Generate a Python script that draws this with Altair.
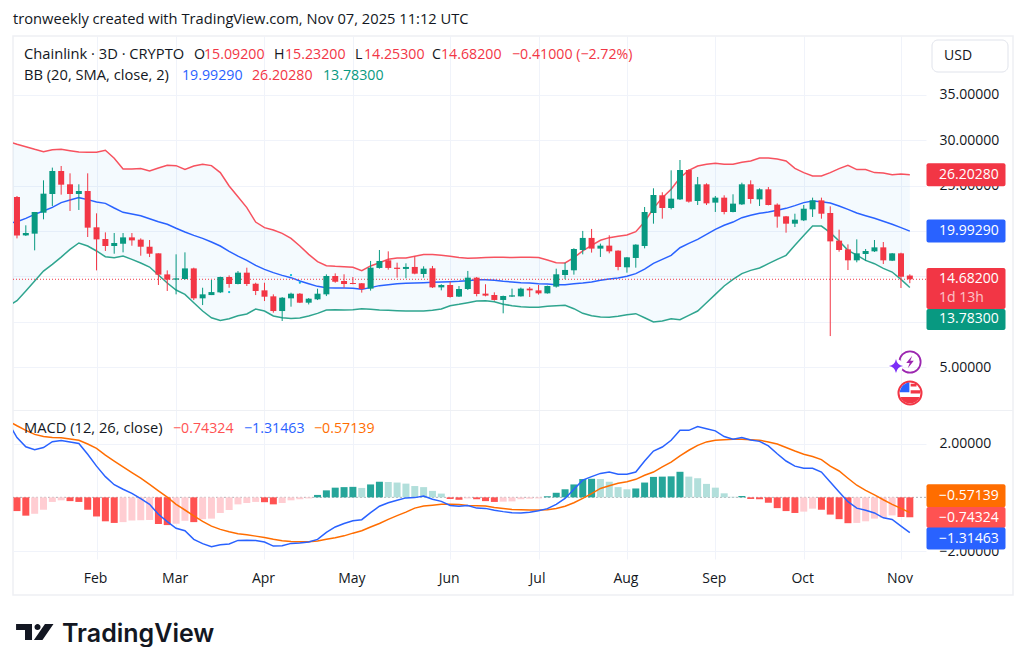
import altair as alt
import pandas as pd

FONT = "Open Sans"
INK = "#131722"
GRID = "#F0F3FA"
UP, DOWN = "#089981", "#F23645"

open_ = [23.75,19.52,19.71,22.02,24.08,26.62,25.15,24.08,24.41,20.41,19.12,18.35,18.60,19.30,19.05,18.27,17.54,15.22,14.64,14.71,
         15.88,12.58,12.94,13.24,14.93,14.16,15.41,14.19,13.46,12.80,11.18,12.58,13.09,12.10,12.47,13.02,15.04,14.49,14.27,14.24,
         13.65,15.93,16.77,15.96,15.82,16.04,15.26,15.89,13.79,14.05,12.77,13.61,14.86,13.10,12.95,12.40,12.77,12.80,13.65,13.46,
         13.13,13.87,15.15,15.67,17.91,19.24,18.06,18.39,17.84,16.00,17.03,18.35,21.99,23.94,22.54,23.49,26.73,23.31,25.15,23.13,
         23.68,22.10,22.94,25.15,23.49,24.60,22.91,21.62,20.81,21.18,22.39,23.38,21.99,18.94,17.98,16.77,17.47,17.76,18.20,16.73,
         17.54,15.09]
close = [19.52,19.78,22.10,24.12,26.62,25.11,24.08,24.41,20.37,19.08,18.35,18.68,19.30,18.97,18.27,17.50,15.19,14.64,14.78,15.88,
         12.58,13.02,13.27,14.93,14.16,15.41,14.16,13.39,12.76,11.18,12.65,13.09,12.10,12.54,13.09,15.04,14.41,14.16,14.16,13.61,
         15.96,16.70,15.93,15.82,16.04,15.30,15.85,13.79,14.05,12.73,13.61,14.86,13.06,12.88,12.40,12.84,12.91,13.65,13.46,13.13,
         13.94,15.23,15.71,18.02,19.24,18.06,18.39,17.76,16.04,17.10,18.50,22.10,23.97,22.54,23.57,26.73,23.24,25.15,23.05,23.68,
         22.10,23.02,25.15,23.53,24.60,22.87,21.59,20.81,21.25,22.46,23.38,21.91,18.86,17.91,16.77,17.54,17.80,18.20,16.77,17.54,
         14.96,14.68]
high = [23.86,20.63,22.10,25.59,26.99,27.17,26.36,25.15,26.36,21.95,19.85,19.78,19.78,19.78,19.19,19.01,17.54,15.66,17.43,17.65,
        15.96,13.75,14.60,14.97,15.11,15.59,15.96,14.30,14.30,13.02,12.72,13.20,13.16,12.61,13.64,15.22,15.33,15.23,14.93,14.27,
        16.70,17.91,17.76,16.51,16.44,17.18,16.11,16.15,14.13,14.42,13.94,15.60,14.93,14.13,13.24,12.88,13.65,13.76,13.83,14.05,
        13.98,15.85,16.51,18.10,20.01,20.23,18.61,19.53,17.87,17.14,18.54,22.65,24.71,24.27,26.69,27.83,26.80,25.96,25.26,23.86,
        23.94,24.05,25.33,25.59,24.71,24.85,23.05,21.66,21.91,22.87,23.68,23.68,22.72,20.15,18.53,19.08,18.02,19.01,18.79,17.58,
        17.61,15.23]
low = [19.19,19.45,17.87,21.29,22.76,24.01,22.21,22.32,19.34,15.66,17.80,17.50,17.65,18.38,17.28,17.13,14.05,13.39,13.02,14.64,
       12.39,11.84,12.94,13.16,13.75,14.12,13.94,12.94,12.28,11.00,10.08,11.66,12.06,11.91,12.39,12.83,14.30,13.76,14.13,13.21,
       13.43,15.85,15.74,14.86,14.79,15.23,14.86,13.72,13.46,12.66,12.73,13.50,12.80,12.80,12.32,10.93,12.73,12.77,12.73,12.99,
       13.10,13.76,14.68,15.19,17.43,17.62,17.14,17.54,15.67,15.41,15.96,18.09,20.81,21.36,22.39,23.42,23.13,22.87,22.87,22.10,
       21.84,22.06,22.87,23.02,22.76,22.83,20.37,19.82,20.44,21.10,21.55,21.36,8.42,17.72,15.70,16.55,16.69,17.69,16.36,16.69,
       13.72,14.25]

bb_upper = [29.89,29.56,29.30,29.01,28.75,28.97,29.01,28.86,28.71,28.68,28.68,28.90,28.02,26.84,26.84,26.88,26.62,26.95,27.24,27.21,
            26.80,27.17,27.35,27.21,26.44,24.96,23.79,22.58,20.99,20.37,20.11,19.74,19.19,18.35,17.43,16.62,16.18,16.11,16.07,16.00,
            15.63,16.15,16.51,16.88,17.03,17.03,17.21,17.40,17.40,17.32,17.21,17.07,16.99,17.03,17.07,17.10,17.10,17.07,17.10,17.10,
            17.07,16.81,16.51,16.48,17.07,17.80,18.43,18.98,19.27,19.42,19.57,19.93,21.03,22.50,23.68,24.60,25.88,26.69,27.17,27.35,
            27.46,27.35,27.35,27.57,27.72,28.05,28.05,27.94,27.72,26.91,26.44,26.07,26.07,26.44,26.88,27.24,26.77,26.77,26.44,26.40,
            26.21,26.29,26.20]
bb_basis = [20.81,21.03,21.40,21.84,22.21,22.61,23.13,23.42,23.68,23.46,23.20,23.05,22.54,22.06,21.88,21.69,21.36,21.03,20.74,20.30,
            19.89,19.52,19.19,18.79,18.35,17.76,17.24,16.77,16.22,15.77,15.41,15.11,14.86,14.49,14.19,13.90,13.75,13.72,13.72,13.68,
            13.57,13.76,13.98,14.09,14.20,14.24,14.27,14.31,14.35,14.38,14.42,14.46,14.53,14.64,14.64,14.57,14.46,14.38,14.31,14.27,
            14.20,14.16,14.09,14.09,14.20,14.27,14.38,14.57,14.71,14.82,15.01,15.30,15.80,16.44,16.88,17.32,18.16,18.64,19.08,19.63,
            20.19,20.63,20.99,21.47,21.73,21.95,22.10,22.28,22.50,22.80,23.13,23.31,23.24,23.09,22.76,22.39,21.99,21.69,21.40,21.07,
            20.74,20.37,19.99]
bb_lower = [11.73,12.32,13.39,14.49,15.59,16.33,17.13,17.98,18.68,18.35,17.80,17.17,17.06,17.24,16.88,16.47,16.03,15.15,14.27,13.50,
            13.02,12.10,11.18,10.44,10.15,10.33,10.66,10.85,11.40,11.18,10.63,10.44,10.37,10.41,10.63,10.92,11.29,11.33,11.29,11.33,
            11.44,11.37,11.29,11.26,11.22,11.18,11.18,11.18,11.26,11.40,11.77,11.92,12.10,12.29,12.32,12.21,11.92,11.77,11.66,11.59,
            11.59,11.70,11.77,11.81,11.44,10.93,10.67,10.52,10.49,10.60,10.78,10.89,10.44,9.97,10.08,10.33,10.22,10.70,11.18,12.10,
            13.02,13.94,14.67,15.30,15.66,15.92,16.40,16.88,17.32,18.42,19.52,20.55,20.55,19.82,18.90,17.87,17.35,16.77,16.40,15.88,
            15.48,14.67,13.78]

hist = [-0.51,-0.68,-0.61,-0.46,-0.17,-0.11,-0.14,-0.17,-0.46,-0.71,-0.89,-0.95,-0.92,-0.86,-0.85,-0.84,-0.99,-1.03,-0.98,-0.87,
        -0.92,-0.81,-0.79,-0.58,-0.47,-0.26,-0.21,-0.17,-0.18,-0.26,-0.21,-0.11,-0.07,-0.04,0.09,0.26,0.36,0.38,0.39,0.35,
        0.48,0.58,0.57,0.55,0.51,0.42,0.38,0.24,0.14,-0.06,-0.09,-0.04,-0.07,-0.14,-0.17,-0.16,-0.15,-0.07,-0.05,-0.04,
        0.04,0.17,0.30,0.48,0.68,0.69,0.68,0.58,0.38,0.30,0.33,0.55,0.76,0.77,0.78,0.95,0.77,0.71,0.50,0.36,
        0.15,0.02,0.05,-0.06,-0.07,-0.20,-0.40,-0.51,-0.58,-0.53,-0.42,-0.46,-0.64,-0.81,-0.96,-0.95,-0.89,-0.79,-0.76,-0.67,
        -0.73,-0.74]
macd = [2.78,2.22,1.88,1.77,1.85,2.07,2.11,2.06,2.00,1.60,1.16,0.77,0.47,0.30,0.15,-0.05,-0.26,-0.63,-0.90,-1.15,
        -1.24,-1.56,-1.72,-1.83,-1.76,-1.73,-1.60,-1.59,-1.60,-1.66,-1.81,-1.80,-1.71,-1.70,-1.66,-1.56,-1.30,-1.10,-0.97,-0.87,
        -0.83,-0.57,-0.33,-0.20,-0.11,-0.02,-0.01,0.05,-0.07,-0.15,-0.30,-0.33,-0.30,-0.40,-0.41,-0.48,-0.53,-0.57,-0.58,-0.55,
        -0.50,-0.42,-0.26,-0.04,0.30,0.64,0.77,0.89,0.94,0.86,0.86,0.94,1.35,1.72,1.87,2.12,2.49,2.49,2.63,2.55,
        2.47,2.26,2.16,2.22,2.13,2.08,1.91,1.62,1.35,1.16,1.08,1.08,0.94,0.57,0.20,-0.16,-0.40,-0.48,-0.58,-0.76,
        -0.82,-1.07,-1.31]
signal = [2.84,2.66,2.49,2.34,2.26,2.22,2.21,2.17,2.12,1.98,1.82,1.57,1.35,1.13,0.92,0.71,0.48,0.24,0.01,-0.26,
          -0.47,-0.69,-0.89,-1.07,-1.19,-1.28,-1.35,-1.39,-1.44,-1.49,-1.56,-1.61,-1.64,-1.65,-1.65,-1.62,-1.56,-1.50,-1.43,-1.33,
          -1.24,-1.10,-0.97,-0.82,-0.68,-0.55,-0.40,-0.32,-0.29,-0.26,-0.26,-0.27,-0.30,-0.31,-0.32,-0.38,-0.41,-0.45,-0.46,-0.47,
          -0.47,-0.46,-0.41,-0.33,-0.20,-0.04,0.14,0.33,0.43,0.52,0.58,0.67,0.82,0.94,1.13,1.31,1.54,1.75,1.93,2.06,
          2.12,2.14,2.16,2.16,2.14,2.12,2.06,1.98,1.85,1.72,1.60,1.52,1.40,1.16,0.98,0.71,0.45,0.26,0.09,-0.09,
          -0.26,-0.41,-0.57]

price_ticks = [5, 10, 15, 20, 25, 30, 35]
macd_ticks = [-2, 2]
month_pos = [9, 18, 28, 38, 49, 59, 69, 79, 89, 100]
month_names = ["Feb", "Mar", "Apr", "May", "Jun", "Jul", "Aug", "Sep", "Oct", "Nov"]
event_i = [24, 31, 32]
event_price = [13.27, 15.15, 14.30]

last_price = 14.682

candles = pd.DataFrame({"i": range(len(open_)), "open": open_, "high": high, "low": low, "close": close})
candles["dir"] = ["up" if c >= o else "down" for o, c in zip(open_, close)]
bands = pd.DataFrame({"i": range(-1, len(bb_upper) - 1), "upper": bb_upper, "basis": bb_basis, "lower": bb_lower})
lines = pd.DataFrame({"i": range(-1, len(macd) - 1), "macd": macd, "signal": signal})


def hist_kind(k):
    v, prev = hist[k], hist[k - 1] if k else 0
    if v >= 0:
        return "up_strong" if v > prev else "up_pale"
    return "down_strong" if v < prev else "down_pale"


histo = pd.DataFrame({"i": range(len(hist)), "v": hist, "zero": [0] * len(hist), "kind": [hist_kind(k) for k in range(len(hist))]})
events = pd.DataFrame({"i": event_i, "p": event_price})
one = pd.DataFrame({"o": [0]})

xs = alt.Scale(domain=[-0.45, 102.83], nice=False, zero=False, padding=0)
ps = alt.Scale(domain=[0.27, 41.5], nice=False, zero=False)
ms = alt.Scale(domain=[-2.29, 3.245], nice=False, zero=False)
month_expr = "{" + ",".join(f"'{p}':'{n}'" for p, n in zip(month_pos, month_names)) + "}[datum.value]"

x_axis_top = alt.Axis(values=month_pos, labels=False, ticks=False, domain=False, grid=True, gridColor=GRID)
x_axis_bot = alt.Axis(values=month_pos, labelExpr=month_expr, labelFont=FONT, labelFontSize=14, labelColor=INK,
                      labelFontWeight=500, ticks=False, domain=False, grid=True, gridColor=GRID, labelPadding=12,
                      labelOffset=-1.5)
# 10, 15 and 20 sit fully behind the price tags in the reference, so only their gridlines show
p_axis = alt.Axis(orient="right", values=price_ticks, labelFont=FONT, labelFontSize=14,
                  labelExpr="indexof([10,15,20],datum.value)>=0 ? '' : format(datum.value,'.5f')",
                  labelColor=INK, ticks=False, domain=False, grid=True, gridColor=GRID, labelPadding=13)
m_axis = alt.Axis(orient="right", values=macd_ticks, format=".5f", labelFont=FONT, labelFontSize=14,
                  labelColor=INK, ticks=False, domain=False, grid=True, gridColor=GRID, labelPadding=13)


def XT(f="i:Q"):
    return alt.X(f, scale=xs, axis=x_axis_top, title=None)


def XB(f="i:Q"):
    return alt.X(f, scale=xs, axis=x_axis_bot, title=None)


def YP(f):
    return alt.Y(f, scale=ps, axis=p_axis, title=None)


def YM(f):
    return alt.Y(f, scale=ms, axis=m_axis, title=None)


def label(text, px, py, color=INK, size=14.2, align="left", weight=400, font=FONT, opacity=1.0):
    return alt.Chart(one).mark_text(text=text, align=align, baseline="middle", color=color, fontSize=size,
                                    fontWeight=weight, font=font, opacity=opacity).encode(
        x=alt.value(px), y=alt.value(py))


def tag(Y, pos, h, fill):
    return alt.Chart(pd.DataFrame({"p": [pos]})).mark_rect(width=79, height=h, fill=fill, cornerRadius=2).encode(
        x=alt.value(953), y=Y("p:Q"))


def tag_text(Y, pos, text, opacity=1.0):
    return alt.Chart(pd.DataFrame({"p": [pos]})).mark_text(text=text, align="left", baseline="middle", color="white",
                                                           fontSize=14, font=FONT, opacity=opacity).encode(
        x=alt.value(926), y=Y("p:Q"))


def icon(path, px, py, size, fill, stroke=None, sw=0, filled=True):
    kw = dict(shape=path, size=size, filled=filled, opacity=1, strokeWidth=sw)
    if fill:
        kw["fill"] = fill
    if stroke:
        kw["stroke"] = stroke
    return alt.Chart(one).mark_point(**kw).encode(x=alt.value(px), y=alt.value(py))


# ---------- price pane ----------
frame = alt.Chart(one).mark_rect(fill="white", fillOpacity=0, stroke="#EEF0F4", strokeWidth=1.5).encode(
    x=alt.value(0), x2=alt.value(1000), y=alt.value(0), y2=alt.value(559))
band = alt.Chart(bands).mark_area(color="#2196F3", opacity=0.05, clip=True).encode(
    x=XT(), y=YP("upper:Q"), y2="lower:Q")


def band_line(field, color):
    return alt.Chart(bands).mark_line(color=color, strokeWidth=1.5, clip=True, interpolate="linear").encode(
        x=XT(), y=YP(f"{field}:Q"))


dir_color = alt.Color("dir:N", scale=alt.Scale(domain=["up", "down"], range=[UP, DOWN]), legend=None)
wick = alt.Chart(candles).mark_rule(strokeWidth=1).encode(
    x=XT(), y=YP("low:Q"), y2="high:Q", color=dir_color)
body = alt.Chart(candles).mark_bar(size=6).encode(
    x=XT(), y=YP("open:Q"), y2="close:Q", color=dir_color)
price_line = alt.Chart(pd.DataFrame({"p": [last_price]})).mark_rule(color=DOWN, strokeWidth=1, strokeDash=[1, 2]).encode(
    y=YP("p:Q"))
event_marks = alt.Chart(events).mark_point(filled=True, color="#00BCD4", size=5, opacity=1).encode(
    x=XT(), y=YP("p:Q"))

legend_1 = [
    label("Chainlink · 3D · CRYPTO", 11, 19, size=14.7),
    label("O", 181, 19), label("15.09200", 191, 19, DOWN),
    label("H", 261, 19), label("15.23200", 272, 19, DOWN),
    label("L", 342, 19), label("14.25300", 351, 19, DOWN),
    label("C", 419, 19), label("14.68200", 428, 19, DOWN),
    label("−0.41000 (−2.72%)", 499, 19, DOWN),
    label("BB (20, SMA, close, 2)", 11, 40, size=14.7),
    label("19.99290", 169, 40, "#2962FF"),
    label("26.20280", 239, 40, DOWN),
    label("13.78300", 310, 40, UP),
]
usd_box = alt.Chart(one).mark_rect(fill="white", stroke="#E0E3EB", strokeWidth=1, cornerRadius=6).encode(
    x=alt.value(919), x2=alt.value(995), y=alt.value(4), y2=alt.value(36))
usd_text = label("USD", 931, 20, size=14)

ring = icon("circle", 897, 326, 452, None, "#9C27B0", 1.8, filled=False)
star_bg = icon("circle", 883, 330, 200, "white")
star = icon("M0,-1 Q0.15,-0.15 1,0 Q0.15,0.15 0,1 Q-0.15,0.15 -1,0 Q-0.15,-0.15 0,-1 Z", 883, 330, 200, "#7B2FF7")
bolt = icon("M0.35,-1 L-0.6,0.15 L-0.05,0.15 L-0.35,1 L0.6,-0.2 L0.05,-0.2 Z", 897, 326, 160, "#9C27B0")
flag_bg = icon("circle", 897, 357, 531, "white", DOWN, 2)
flag_red = icon("M0.05,-0.72 H0.5 V-0.5 H0.05 Z M0.05,-0.22 H0.8 V0.03 H0.05 Z M-0.74,0.3 H0.74 A0.8,0.8 0 0 1 -0.74,0.3 Z",
                897, 357, 676, DOWN)
flag_blue = icon("M-0.78,-0.05 A0.8,0.8 0 0 1 -0.05,-0.8 L-0.05,-0.05 Z", 897, 357, 676, "#2962FF")

price_tags = [
    tag(YP, 26.2028, 23, DOWN), tag_text(YP, 26.2028, "26.20280"),
    tag(YP, 19.9929, 23, "#2962FF"), tag_text(YP, 19.9929, "19.99290"),
    tag(YP, 13.67, 41, DOWN), tag_text(YP, 14.682, "14.68200"), tag_text(YP, 12.62, "1d 13h", 0.7),
    tag(YP, 10.25, 21, UP), tag_text(YP, 10.25, "13.78300"),
]

price_pane = alt.layer(
    frame, band, band_line("upper", "#F7525F"), band_line("lower", "#2FA58F"), band_line("basis", "#2962FF"),
    price_line, wick, body, event_marks, *legend_1, usd_box, usd_text,
    ring, star_bg, star, bolt, flag_bg, flag_red, flag_blue, *price_tags,
).properties(width=913, height=374)

# ---------- MACD pane ----------
zero_line = alt.Chart(pd.DataFrame({"p": [0]})).mark_rule(color="#787B86", opacity=0.6, strokeWidth=1, strokeDash=[2, 2]).encode(
    y=YM("p:Q"))
bars = alt.Chart(histo).mark_bar(size=7).encode(
    x=XB(), y=YM("v:Q"), y2="zero:Q",
    color=alt.Color("kind:N", legend=None, scale=alt.Scale(
        domain=["up_strong", "up_pale", "down_strong", "down_pale"],
        range=["#26A69A", "#B2DFDB", "#FF5252", "#FFCDD2"])))
macd_line = alt.Chart(lines).mark_line(color="#2962FF", strokeWidth=1.5, clip=True).encode(
    x=XB(), y=YM("macd:Q"))
signal_line = alt.Chart(lines).mark_line(color="#FF6D00", strokeWidth=1.5, clip=True).encode(
    x=XB(), y=YM("signal:Q"))
legend_2 = [
    label("MACD (12, 26, close)", 11, 19, size=14.7),
    label("−0.74324", 160, 19, "#FF5252"),
    label("−1.31463", 231, 19, "#2962FF"),
    label("−0.57139", 301, 19, "#FF6D00"),
]
macd_tags = [
    tag(YM, 0.06, 23, "#FF6D00"), tag_text(YM, 0.06, "−0.57139"),
    tag(YM, -0.75, 21, "#FF5252"), tag_text(YM, -0.75, "−0.74324"),
    tag(YM, -1.53, 22, "#2962FF"), tag_text(YM, -1.53, "−1.31463"),
]
logo = icon("M-0.97,-0.42 H-0.13 V0.42 H-0.5 V-0.11 H-0.97 Z "
            "M0.16,-0.42 A0.16,0.16 0 1 1 0.16,-0.1 A0.16,0.16 0 1 1 0.16,-0.42 Z "
            "M0.55,-0.42 H1 L0.42,0.42 H-0.03 Z", 21.5, 222, 1444, "#131722")
wordmark = label("TradingView", 49, 224, "#131722", 25, weight=600, font="Inter")
separator = alt.Chart(one).mark_rect(fill="#EEF0F4").encode(
    x=alt.value(0), x2=alt.value(1000), y=alt.value(0), y2=alt.value(1))

macd_pane = alt.layer(
    separator, zero_line, bars, signal_line, macd_line, *legend_2, *macd_tags, logo, wordmark,
).properties(width=913, height=149)

chart = alt.vconcat(
    price_pane, macd_pane, spacing=0, bounds="flush",
    title=alt.TitleParams("tronweekly created with TradingView.com, Nov 07, 2025 11:12 UTC", anchor="start",
                          font=FONT, fontSize=14.7, fontWeight=400, color=INK, offset=9, frame="group"),
).resolve_scale(color="independent").properties(
    padding={"left": 4, "top": 3, "right": 0, "bottom": 0}, background="white"
).configure_view(stroke=None)

chart.save("out.html", embed_options={"renderer": "svg", "actions": False})
